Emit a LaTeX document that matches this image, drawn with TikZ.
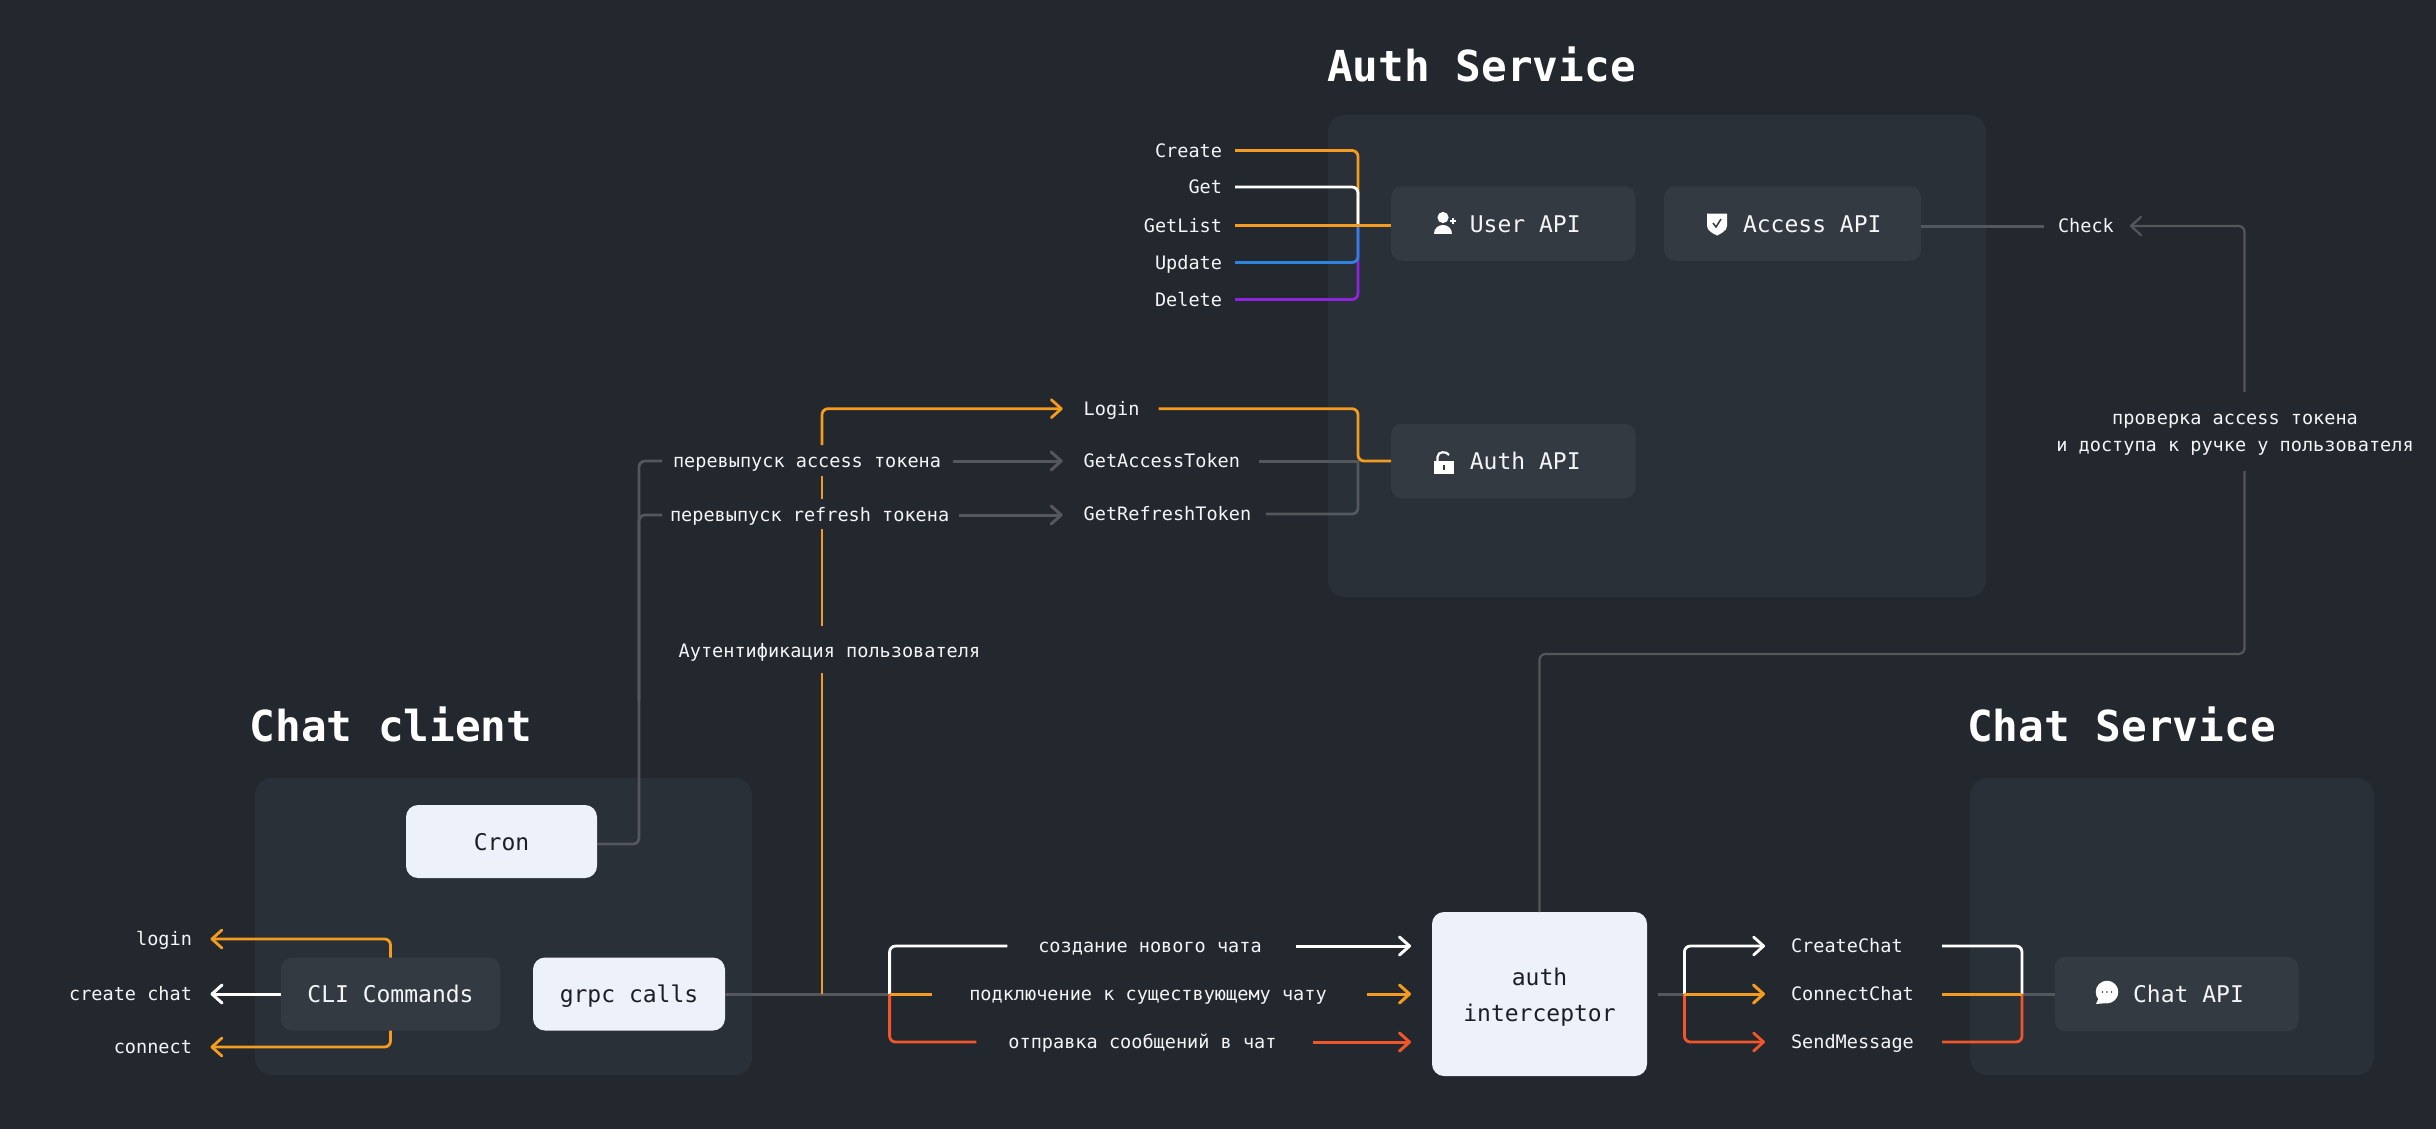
\documentclass[tikz,border=0pt]{standalone}
\usepackage{fontspec}
\setmainfont{DejaVu Sans Mono}
\usetikzlibrary{arrows.meta,calc}
\definecolor{bgc}{HTML}{23272E}
\definecolor{panelc}{HTML}{2A3037}
\definecolor{boxc}{HTML}{343A42}
\definecolor{lightc}{HTML}{EDF1F9}
\definecolor{txtc}{HTML}{F4F5F7}
\definecolor{darkc}{HTML}{1B1E23}
\definecolor{orangec}{HTML}{F39C1F}
\definecolor{bluec}{HTML}{2A84E0}
\definecolor{purplec}{HTML}{8E24DC}
\definecolor{redc}{HTML}{F0562A}
\definecolor{grayc}{HTML}{54575C}
\tikzset{
  panel/.style={fill=panelc,rounded corners=17pt,inner sep=0pt,outer sep=0pt},
  darkbox/.style={fill=boxc,rounded corners=11pt,text=txtc,inner sep=0pt,outer sep=0pt,text height=23pt,text depth=5.5pt,font=\fontsize{23}{36}\selectfont},
  lightbox/.style={fill=lightc,rounded corners=12pt,text=darkc,inner sep=0pt,outer sep=0pt,font=\fontsize{23}{36}\selectfont},
  lbl/.style={text=txtc,inner sep=0pt,outer sep=0pt,text height=17pt,text depth=4pt,font=\fontsize{18.55}{26.7}\selectfont},
  title/.style={text=white,inner sep=0pt,font=\fontsize{42.7}{50}\selectfont\bfseries},
  wire/.style={line width=2.8pt,rounded corners=6pt},
  straightwire/.style={line width=3pt},
  thinwire/.style={line width=2.2pt,rounded corners=6pt},
  barb/.style={-{Straight Barb[length=10pt,width=18pt,round]}},
  icon/.style={fill=white,draw=none}
}
\begin{document}
\begin{tikzpicture}[x=1pt,y=-1pt]
\useasboundingbox (0,0) rectangle (2436,1128);
\fill[bgc] (-6,-6) rectangle (2442,1134);

% panels
\node[panel,minimum width=658pt,minimum height=482pt] (authpanel) at (1657,356) {};
\node[panel,minimum width=497pt,minimum height=297pt] (clientpanel) at (503.5,926.5) {};
\node[panel,minimum width=404pt,minimum height=297pt] (chatpanel) at (2172,926.5) {};

% titles
\node[title] (tauth) at (1481.5,64) {Auth Service};
\node[title] (tclient) at (391,724) {Chat client};
\node[title] (tchat) at (2121.5,724) {Chat Service};

% boxes
\node[darkbox,minimum width=244.5pt,minimum height=74.5pt] (user) at (1513.25,223.5) {\hspace{24pt}User API};
\node[darkbox,minimum width=257pt,minimum height=74.5pt] (access) at (1792.5,223.5) {\hspace{39.5pt}Access API};
\node[darkbox,minimum width=244.5pt,minimum height=74.5pt] (authapi) at (1513.25,461) {\hspace{24pt}Auth API};
\node[darkbox,minimum width=244pt,minimum height=74.5pt] (chatapi) at (2176.5,994) {\hspace{24pt}Chat API};
\node[darkbox,minimum width=219pt,minimum height=73pt] (cli) at (390.5,994) {CLI Commands};
\node[lightbox,text height=23pt,text depth=5.5pt,minimum width=191pt,minimum height=73pt] (cron) at (501.5,841.5) {Cron};
\node[lightbox,text height=23pt,text depth=5.5pt,minimum width=192pt,minimum height=73pt] (grpc) at (629,994) {grpc calls};
\node[lightbox,align=center,minimum width=215pt,minimum height=164pt] (authi) at (1539.5,994) {\rule{0pt}{23pt}auth\\interceptor};

% labels: user api
\node[lbl,anchor=east] (lcreate) at (1222,150.5) {Create};
\node[lbl,anchor=east] (lget) at (1222,187) {Get};
\node[lbl,anchor=east] (lgetlist) at (1222,225.5) {GetList};
\node[lbl,anchor=east] (lupdate) at (1222,262.5) {Update};
\node[lbl,anchor=east] (ldelete) at (1222,299.5) {Delete};
% labels: auth api
\node[lbl,anchor=west] (llogin) at (1083.7,408.7) {Login};
\node[lbl,anchor=west] (lgat) at (1083.7,461) {GetAccessToken};
\node[lbl,anchor=west] (lgrt) at (1083.7,514) {GetRefreshToken};
\node[lbl,anchor=west] (rat) at (673,461) {перевыпуск access токена};
\node[lbl,anchor=west] (rrt) at (670,515) {перевыпуск refresh токена};
\node[lbl] (aut) at (829.5,650.7) {Аутентификация пользователя};
% labels: check
\node[lbl,anchor=west] (lcheck) at (2058,226) {Check};
\node[lbl,align=center,text height=,text depth=] (lcheckdesc) at (2235,434.5) {проверка access токена\\и доступа к ручке у пользователя};
% labels: cli
\node[lbl,anchor=east] (clogin) at (192,939) {login};
\node[lbl,anchor=east] (ccreate) at (192,994) {create chat};
\node[lbl,anchor=east] (cconnect) at (192,1047) {connect};
% labels: chat flows
\node[lbl] (fcreate) at (1150,946) {создание нового чата};
\node[lbl] (fconnect) at (1148,994) {подключение к существующему чату};
\node[lbl] (fsend) at (1142.5,1042) {отправка сообщений в чат};
\node[lbl,anchor=west] (mcreate) at (1791,946) {CreateChat};
\node[lbl,anchor=west] (mconnect) at (1791,994) {ConnectChat};
\node[lbl,anchor=west] (msend) at (1791,1042) {SendMessage};

% junctions
\coordinate (ju) at (1358,226);
\coordinate (ja) at (1358,461);
\coordinate (jcron) at (639,700);
\coordinate (crone) at ([yshift=-2.5pt]cron.east);
\coordinate (jo) at (822,994);
\coordinate (jl) at (889.6,994);
\coordinate (jr) at (1684.4,994);
\coordinate (jc) at (2022,994);
\coordinate (jv) at (2244.5,654);
\coordinate (jvgapb) at (2244.5,471);
\coordinate (jvgapt) at (2244.5,392);
\coordinate (o1) at (822,673);
\coordinate (o2) at (822,626);
\coordinate (o3) at (822,529);
\coordinate (o4) at (822,499);
\coordinate (o5) at (822,475.7);
\coordinate (o6) at (822,445);

% user api connectors
\draw[wire,orangec,shorten <=13pt] (lcreate.east) -- (ju |- lcreate.east) -- (ju);
\draw[wire,white,shorten <=13pt] (lget.east) -- (ju |- lget.east) -- (ju);
\draw[wire,purplec,shorten <=13pt] (ldelete.east) -- (ju |- ldelete.east) -- (ju);
\draw[wire,bluec,shorten <=13pt] (lupdate.east) -- (ju |- lupdate.east) -- (ju);
\draw[straightwire,orangec,shorten <=13pt] (lgetlist.east) -- (lgetlist.east -| user.west);

% auth api connectors
\draw[straightwire,grayc,shorten <=19pt] (lgat.east) -- (ja);
\draw[wire,grayc,shorten <=15pt] (lgrt.east) -- (ja |- lgrt.east) -- (ja);
\draw[wire,orangec,shorten <=19pt] (llogin.east) -- (ja |- llogin.east) -- (ja) -- (authapi.west);

% check connectors
\draw[straightwire,grayc,shorten >=14pt] (access.east |- lcheck.west) -- (lcheck.west);
\draw[thinwire,grayc,barb,shorten >=16pt] (jvgapt) -- (jvgapt |- lcheck.east) -- (lcheck.east);
\draw[thinwire,grayc] (authi.north) -- (authi.north |- jv) -- (jv) -- (jvgapb);

% cron
\draw[wire,grayc,shorten >=11pt] (crone) -- (jcron |- crone) -- (jcron |- rat.west) -- (rat.west);
\draw[wire,grayc,shorten >=8pt] (jcron) -- (jcron |- rrt.west) -- (rrt.west);
\draw[straightwire,grayc,barb,shorten <=12pt,shorten >=21pt] (rat.east) -- (rat.east -| llogin.west);
\draw[straightwire,grayc,barb,shorten <=10pt,shorten >=21pt] (rrt.east) -- (rrt.east -| llogin.west);

% grpc
\draw[line width=3pt,grayc] (grpc.east) -- (jl);
\draw[thinwire,orangec] (jo) -- (o1);
\draw[thinwire,orangec] (o2) -- (o3);
\draw[thinwire,orangec] (o4) -- (o5);
\draw[wire,orangec,barb,shorten >=21pt] (o6) -- (o6 |- llogin.west) -- (llogin.west);

% cli
\draw[wire,orangec,barb,shorten >=18.5pt] (cli.north) -- (cli.north |- clogin.east) -- (clogin.east);
\draw[straightwire,white,barb,shorten >=18.5pt] (cli.west) -- (ccreate.east);
\draw[wire,orangec,barb,shorten >=18.5pt] (cli.south) -- (cli.south |- cconnect.east) -- (cconnect.east);

% flows to interceptor
\draw[wire,white,shorten >=31pt] (jl) -- (jl |- fcreate.west) -- (fcreate.west);
\draw[wire,redc,shorten >=32pt] (jl) -- (jl |- fsend.west) -- (fsend.west);
\draw[straightwire,orangec,shorten >=37pt] (jl) -- (fconnect.west);
\draw[straightwire,white,barb,shorten <=34pt,shorten >=21pt] (fcreate.east) -- (fcreate.east -| authi.west);
\draw[straightwire,orangec,barb,shorten <=40pt,shorten >=21pt] (fconnect.east) -- (fconnect.east -| authi.west);
\draw[straightwire,redc,barb,shorten <=36pt,shorten >=21pt] (fsend.east) -- (fsend.east -| authi.west);

% interceptor to methods
\draw[line width=3pt,grayc,shorten <=11pt] (authi.east) -- (jr);
\draw[wire,white,barb,shorten >=26pt] (jr) -- (jr |- mcreate.west) -- (mcreate.west);
\draw[wire,redc,barb,shorten >=26pt] (jr) -- (jr |- msend.west) -- (msend.west);
\draw[straightwire,orangec,barb,shorten >=26pt] (jr) -- (mconnect.west);

% methods to chat api
\draw[line width=3pt,grayc] (jc) -- (chatapi.west);
\coordinate (mr) at (1942,994);
\draw[wire,white] (mr |- mcreate.east) -- (jc |- mcreate.east) -- (jc);
\draw[wire,redc] (mr |- msend.east) -- (jc |- msend.east) -- (jc);
\draw[straightwire,orangec] (mr) -- (jc);

% icons
\fill[icon] (1443,217.5) circle (5.6);
\fill[icon] (1434,234) .. controls (1434,222) and (1452,222) .. (1452,234) -- cycle;
\draw[white,line width=1.4pt] (1450,221) -- (1456,221) (1453,218) -- (1453,224);

\fill[icon] (1707,213.5) -- (1727,213.5) -- (1727,226) .. controls (1727,231) and (1720,234) .. (1717,235.5) .. controls (1714,234) and (1707,231) .. (1707,226) -- cycle;
\draw[boxc,line width=1.5pt] (1713,223) -- (1716,227) -- (1721,219);

\fill[icon] (1434,461) rectangle (1454,474);
\draw[white,line width=2.2pt] (1437.5,461) -- (1437.5,457) .. controls (1437.5,451) and (1447,451) .. (1449,455);
\fill[boxc] (1443.2,465) rectangle (1445,470);

\fill[icon] (2107,992) circle (11.3);
\fill[icon] (2096,1004) -- (2100,995) -- (2108,1003) -- cycle;
\fill[boxc] (2102.5,992) circle (0.9) (2107,992) circle (0.9) (2111.5,992) circle (0.9);
\end{tikzpicture}
\end{document}
